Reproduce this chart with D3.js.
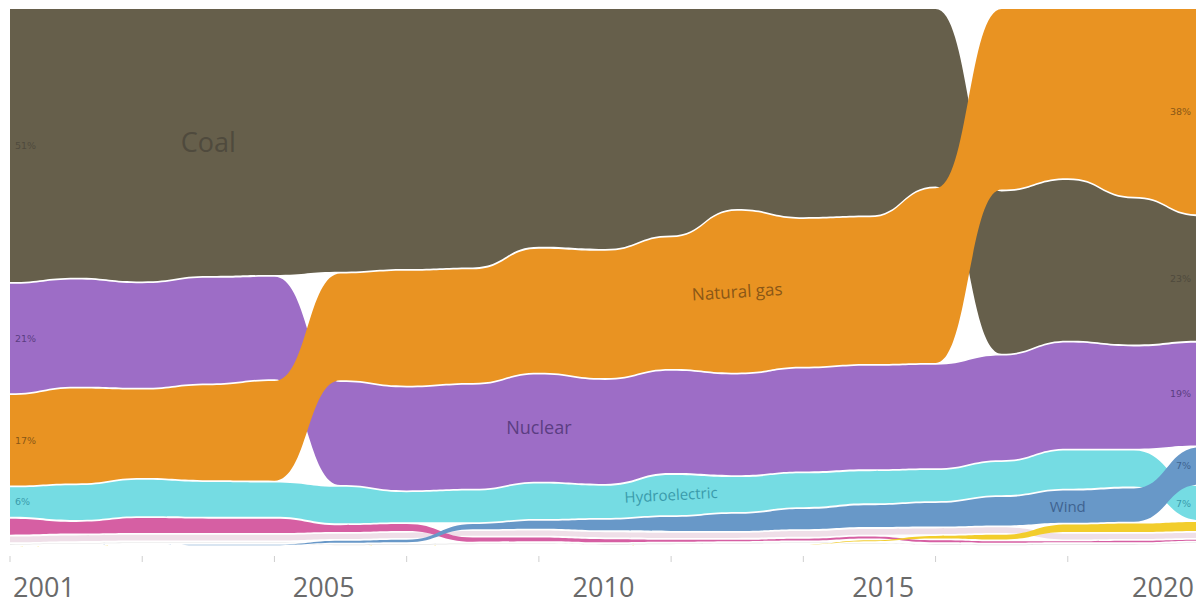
<!DOCTYPE html>
<html>
<head>
<meta charset="utf-8">
<script src="https://cdn.jsdelivr.net/npm/d3@7"></script>
<style>
  html, body { margin: 0; padding: 0; background: #fff; }
  svg { display: block; }
</style>
</head>
<body>
<svg id="chart" width="1196" height="606"></svg>
<script>
// ---------- data (share of US electricity generation, %) ----------
const years = [2001,2002,2003,2004,2005,2006,2007,2008,2009,2010,2011,2012,2013,2014,2015,2016,2017,2018,2019];
const coal      = [50.9,50.1,50.8,49.8,49.6,49.0,48.5,48.2,44.4,44.8,42.3,37.4,38.9,38.6,33.2,30.4,30.1,27.4,23.4];
const naturalGas= [17.1,17.9,16.7,17.9,18.8,20.1,21.6,21.4,23.3,23.9,24.7,30.3,27.7,27.5,32.7,33.8,31.7,35.1,38.4];
const nuclear   = [20.6,20.2,19.7,19.9,19.3,19.4,19.4,19.6,20.2,19.6,19.3,19.0,19.4,19.5,19.5,19.7,20.0,19.3,19.4];
const hydro     = [5.8,6.8,7.1,6.8,6.7,7.1,5.9,6.2,6.9,6.3,7.8,6.8,6.6,6.3,6.1,6.5,7.4,7.0,6.6];
const wind      = [0.2,0.3,0.3,0.4,0.4,0.7,0.8,1.3,1.8,2.3,2.9,3.5,4.1,4.4,4.7,5.6,6.3,6.5,7.2];
const solar     = [0,0,0,0,0,0,0,0,0,0,0,0.1,0.2,0.5,0.8,1.2,1.7,1.9,2.0];
const petroleum = [3.3,2.5,3.1,3.0,3.0,1.6,1.6,1.1,1.0,0.9,0.7,0.6,0.7,0.7,0.7,0.6,0.5,0.6,0.5];
const otherRenew= [1.4,1.4,1.4,1.4,1.4,1.3,1.3,1.2,1.3,1.3,1.3,1.3,1.4,1.4,1.4,1.4,1.4,1.3,1.3];
const other     = [0.45,0.45,0.45,0.45,0.45,0.45,0.45,0.45,0.45,0.45,0.45,0.45,0.45,0.45,0.45,0.45,0.45,0.45,0.45];

const categoryNames = ["Coal","Natural gas","Nuclear","Hydroelectric","Wind","Solar","Petroleum","Other renewables","Other"];
const categoryValues = [coal, naturalGas, nuclear, hydro, wind, solar, petroleum, otherRenew, other];
const categoryColors = ["#665f4b","#e99322","#9d6dc6","#75dce3","#6898c8","#f2cd2c","#d65fa3","#efdfe8","#e3e3e3"];
const labelColors    = ["#4f4a3d","#8a5716","#5b3d82","#3a9bab","#3f6390","#9a7d10","#8a2f66","#999","#999"];
// draw order: rising ribbons on top
const drawOrder = ["Other","Other renewables","Petroleum","Hydroelectric","Nuclear","Coal","Natural gas","Wind","Solar"];

const axisLabels = ["2001","2005","2010","2015","2020"];
const tickYears  = [2001,2003,2005,2007,2009,2011,2013,2015,2017,2019];

// in-ribbon category labels: [category, year, font size, rotation]
const ribbonLabels = [
  ["Coal", 2004, 27, 0],
  ["Natural gas", 2012, 17, -3.5],
  ["Nuclear", 2009, 18, 0],
  ["Hydroelectric", 2011, 15, -3],
  ["Wind", 2017, 15, 0]
];

// ---------- layout ----------
const svg = d3.select("#chart");
const x = d3.scaleLinear().domain([2001, 2019]).range([10, 1200]);
const y = d3.scaleLinear().domain([0, 100]).range([8, 548]);
const xLabel = d3.scalePoint().domain(axisLabels).range([44, 1163]);
const pad = 0.9;

// compute ranked stacks per year
const series = categoryNames.map((name, ci) => ({ name, ci, values: categoryValues[ci], pts: [] }));
years.forEach((yr, i) => {
  const order = series.slice().sort((a, b) => b.values[i] - a.values[i]);
  let cum = 0;
  order.forEach(s => {
    const v = s.values[i];
    const top = y(cum), bot = y(cum + v);
    const t = Math.min(top + pad, (top + bot) / 2);
    const b = Math.max(bot - pad, (top + bot) / 2);
    s.pts.push({ year: yr, y0: t, y1: b, mid: (top + bot) / 2, v });
    cum += v;
  });
});

const area = d3.area()
  .x(d => x(d.year))
  .y0(d => d.y0)
  .y1(d => d.y1)
  .curve(d3.curveBumpX);

const gRib = svg.append("g");
drawOrder.forEach(name => {
  const s = series.find(d => d.name === name);
  gRib.append("path")
    .attr("d", area(s.pts))
    .attr("fill", categoryColors[s.ci]);
});

// percent labels at first and last column
const fmt = d3.format(".0f");
series.forEach(s => {
  const first = s.pts[0], last = s.pts[s.pts.length - 1];
  if (first.v >= 5) {
    svg.append("text").attr("x", 15).attr("y", first.mid).attr("dy", "0.35em")
      .attr("font-family", "DejaVu Sans, sans-serif").attr("font-size", 9.5)
      .attr("fill", labelColors[s.ci]).text(fmt(first.v) + "%");
  }
  if (last.v >= 5) {
    svg.append("text").attr("x", 1191).attr("y", last.mid).attr("dy", "0.35em")
      .attr("text-anchor", "end")
      .attr("font-family", "DejaVu Sans, sans-serif").attr("font-size", 9.5)
      .attr("fill", labelColors[s.ci]).text(fmt(last.v) + "%");
  }
});

// category labels inside ribbons
ribbonLabels.forEach(([name, yr, fs, rot]) => {
  const s = series.find(d => d.name === name);
  const p = s.pts[years.indexOf(yr)];
  const cx = x(yr), cy = p.mid;
  svg.append("text")
    .attr("transform", `translate(${cx},${cy}) rotate(${rot})`)
    .attr("text-anchor", "middle").attr("dy", "0.35em")
    .attr("font-family", "Open Sans, Noto Sans, sans-serif")
    .attr("font-size", fs)
    .attr("fill", labelColors[s.ci])
    .text(name);
});

// ticks
svg.append("g").selectAll("line").data(tickYears).join("line")
  .attr("x1", d => x(d)).attr("x2", d => x(d))
  .attr("y1", 556).attr("y2", 562)
  .attr("stroke", "#cfcfcf").attr("stroke-width", 1);

// axis labels
svg.append("g").selectAll("text").data(axisLabels).join("text")
  .attr("x", d => xLabel(d)).attr("y", 597)
  .attr("text-anchor", "middle")
  .attr("font-family", "Open Sans, Noto Sans, sans-serif")
  .attr("font-size", 27)
  .attr("fill", "#6a6a6a")
  .text(d => d);
</script>
</body>
</html>
